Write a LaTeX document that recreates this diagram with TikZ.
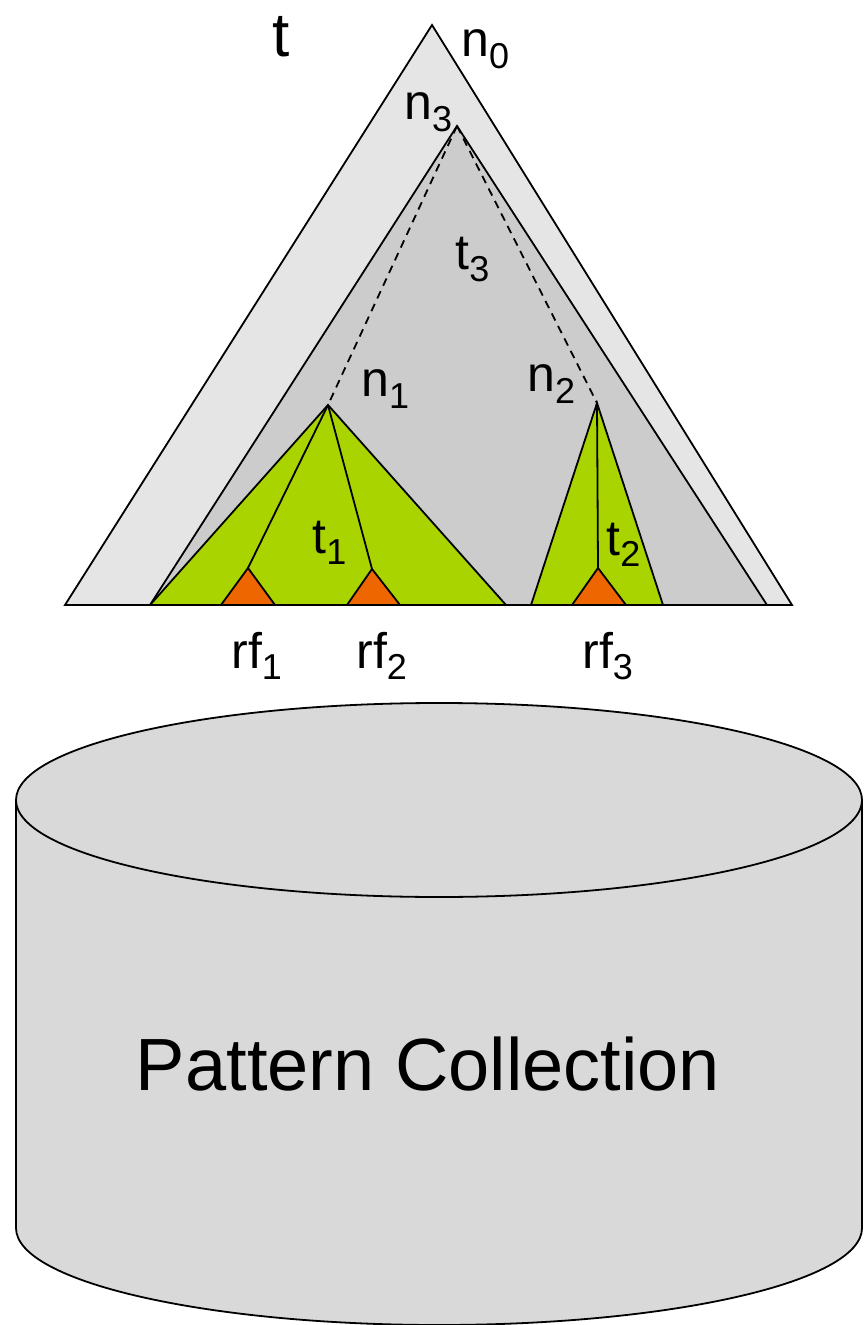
\documentclass[tikz,border=0pt]{standalone}
\usepackage{fontspec}
\setmainfont{Liberation Sans}
\usetikzlibrary{positioning}

\definecolor{outergray}{HTML}{E5E5E5}
\definecolor{innergray}{HTML}{CCCCCC}
\definecolor{leafgreen}{HTML}{AAD400}
\definecolor{rforange}{HTML}{EE6600}
\definecolor{dbgray}{HTML}{D9D9D9}

\newcommand{\lsub}[1]{\raisebox{-0.23em}{\fontsize{18}{20}\selectfont #1}}

\begin{document}
\begin{tikzpicture}[
    x=0.5pt, y=-0.5pt,
    tri/.style={draw=black, line width=0.9pt, line join=miter},
    cut/.style={draw=black, line width=0.9pt, dash pattern=on 4pt off 3pt},
    lab/.style={anchor=base west, inner sep=0pt, font=\fontsize{25}{28}\selectfont},
    cyl/.style={fill=dbgray, draw=black, line width=0.9pt}
]
\useasboundingbox (0,0) rectangle (864,1325);

% tree t and subtree t3
\coordinate (n0) at (432,25);
\coordinate (n3) at (457,126);
\coordinate (n1) at (328,405);
\coordinate (n2) at (597,403);
\coordinate (bl0) at (65,605);
\coordinate (br0) at (792,605);
\coordinate (bl3) at (150,605);
\coordinate (br3) at (767,605);
\filldraw[tri, fill=outergray] (n0) -- (br0) -- (bl0) -- cycle;
\filldraw[tri, fill=innergray] (n3) -- (br3) -- (bl3) -- cycle;
\draw[cut] (n3) -- (n1);
\draw[cut] (n3) -- (n2);

% subtrees t1, t2
\coordinate (bl1) at (150,605);
\coordinate (br1) at (506,605);
\coordinate (bl2) at (531,605);
\coordinate (br2) at (663,605);
\filldraw[tri, fill=leafgreen] (n1) -- (br1) -- (bl1) -- cycle;
\filldraw[tri, fill=leafgreen] (n2) -- (br2) -- (bl2) -- cycle;

% fragments rf1..rf3
\coordinate (rf1) at (248,568);
\coordinate (rf2) at (372,569);
\coordinate (rf3) at (598,568);
\draw[tri] (n1) -- (rf1);
\draw[tri] (n1) -- (rf2);
\draw[tri] (n2) -- (rf3);
\filldraw[tri, fill=rforange] (rf1) -- (275,605) -- (221,605) -- cycle;
\filldraw[tri, fill=rforange] (rf2) -- (400,605) -- (347,605) -- cycle;
\filldraw[tri, fill=rforange] (rf3) -- (626,605) -- (572,605) -- cycle;

% labels
\node[lab, font=\fontsize{31}{34}\selectfont] (tlab) at (272,57) {t};
\node[lab] (n0lab) at (461,57) {n\lsub{0}};
\node[lab] (n3lab) at (404,120) {n\lsub{3}};
\node[lab] (t3lab) at (455,270) {t\lsub{3}};
\node[lab] (n1lab) at (361,397) {n\lsub{1}};
\node[lab] (n2lab) at (527,392) {n\lsub{2}};
\node[lab] (t1lab) at (312,553) {t\lsub{1}};
\node[lab] (t2lab) at (606,555) {t\lsub{2}};
\node[lab] (rf1lab) at (231,668) {rf\lsub{1}};
\node[lab] (rf2lab) at (356,668) {rf\lsub{2}};
\node[lab] (rf3lab) at (582,668) {rf\lsub{3}};

% pattern collection
\path[cyl] (16,800) -- (16,1228)
    arc[start angle=180, end angle=360, x radius=211.5pt, y radius=48.5pt]
    -- (862,800)
    arc[start angle=0, end angle=180, x radius=211.5pt, y radius=48.5pt] -- cycle;
\draw[line width=0.9pt] (16,800)
    arc[start angle=180, end angle=360, x radius=211.5pt, y radius=48.5pt];
\node[anchor=base, inner sep=0pt, font=\fontsize{37}{40}\selectfont] (pc) at (428,1090) {Pattern Collection};
\end{tikzpicture}
\end{document}
